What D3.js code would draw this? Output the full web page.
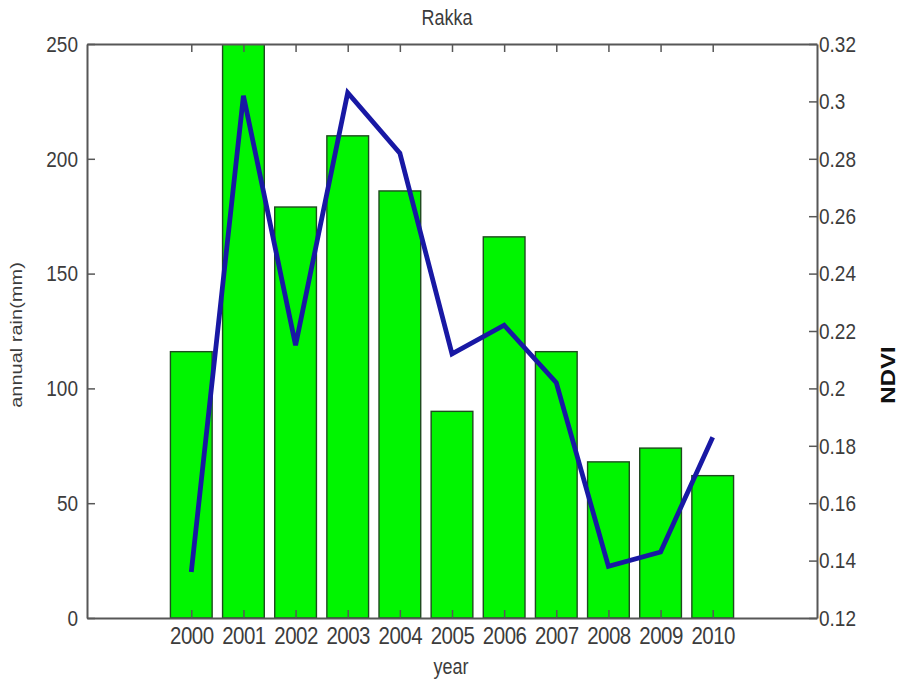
<!DOCTYPE html>
<html>
<head>
<meta charset="utf-8">
<script src="https://cdn.jsdelivr.net/npm/d3@7"></script>
<style>
  html, body { margin: 0; padding: 0; background: #fff; }
  svg { display: block; font-family: "Liberation Sans", Arial, sans-serif; }
</style>
</head>
<body>
<svg id="chart" width="920" height="679"></svg>
<script>
// Annual rainfall (bars, left axis) and mean NDVI (line, right axis) for Rakka
const years = [2000, 2001, 2002, 2003, 2004, 2005, 2006, 2007, 2008, 2009, 2010];
const rainMm = [116, 256, 179, 210, 186, 90, 166, 116, 68, 74, 62];
const ndvi = [0.136, 0.302, 0.215, 0.303, 0.282, 0.212, 0.222, 0.202, 0.138, 0.143, 0.183];
const rainTicks = [0, 50, 100, 150, 200, 250];
const ndviTicks = [0.12, 0.14, 0.16, 0.18, 0.2, 0.22, 0.24, 0.26, 0.28, 0.3, 0.32];

const svg = d3.select("#chart");
const plotL = 87, plotR = 817, plotT = 44, plotB = 618;

const x = d3.scaleLinear().domain([1998, 2012]).range([plotL, plotR]);
const yRain = d3.scaleLinear().domain([0, 250]).range([plotB, plotT]);
const yNdvi = d3.scaleLinear().domain([0.12, 0.32]).range([plotB, plotT]);
const barW = 0.8;

svg.append("defs").append("clipPath").attr("id", "plot")
  .append("rect").attr("x", plotL).attr("y", plotT)
  .attr("width", plotR - plotL).attr("height", plotB - plotT);

// bars
svg.append("g").attr("clip-path", "url(#plot)")
  .selectAll("rect").data(years).join("rect")
  .attr("x", (d) => x(d - barW / 2))
  .attr("width", (d) => x(d + barW / 2) - x(d - barW / 2))
  .attr("y", (d, i) => yRain(rainMm[i]))
  .attr("height", (d, i) => yRain(0) - yRain(rainMm[i]))
  .attr("fill", "#00f500")
  .attr("stroke", "#1f4a1f")
  .attr("stroke-width", 1.4);

// NDVI line
const line = d3.line().x((d) => x(d[0])).y((d) => yNdvi(d[1]));
svg.append("path")
  .datum(years.map((y, i) => [y, ndvi[i]]))
  .attr("d", line)
  .attr("fill", "none")
  .attr("stroke", "#1818a4")
  .attr("stroke-width", 4.8)
  .attr("stroke-linejoin", "miter");

const axisColor = "#575757";
const textColor = "#3c3c3c";
const stretch = "scale(1,1.2)";

function styleAxis(g) {
  g.select(".domain").attr("stroke", axisColor).attr("stroke-width", 2);
  g.selectAll(".tick line").attr("stroke", axisColor).attr("stroke-width", 1.5);
  g.selectAll(".tick text")
    .attr("fill", textColor)
    .attr("font-size", 19)
    .attr("transform", stretch);
}

// left axis
svg.append("g").attr("transform", `translate(${plotL},0)`)
  .call(d3.axisLeft(yRain).tickValues(rainTicks).tickSizeInner(-8).tickSizeOuter(0).tickPadding(9))
  .call(styleAxis);

// right axis
svg.append("g").attr("transform", `translate(${plotR},0)`)
  .call(d3.axisRight(yNdvi).tickValues(ndviTicks).tickSizeInner(-8).tickSizeOuter(0).tickPadding(2)
    .tickFormat((d) => String(+d.toFixed(2))))
  .call(styleAxis);

// bottom axis
svg.append("g").attr("transform", `translate(0,${plotB})`)
  .call(d3.axisBottom(x).tickValues(years).tickSizeInner(-8).tickSizeOuter(0).tickPadding(7)
    .tickFormat(d3.format("d")))
  .call(styleAxis)
  .call((g) => g.selectAll(".tick text").attr("font-size", 20.5).attr("letter-spacing", -0.5));

// top axis (box edge)
svg.append("g").attr("transform", `translate(0,${plotT})`)
  .call(d3.axisTop(x).tickValues(years).tickSizeInner(-8).tickSizeOuter(0).tickFormat(""))
  .call(styleAxis);

// titles
svg.append("text")
  .attr("x", 447).attr("y", 23)
  .attr("text-anchor", "middle")
  .attr("font-size", 18).attr("fill", textColor)
  .attr("transform", "translate(0,-3) scale(1,1.2)")
  .text("Rakka");

svg.append("text")
  .attr("x", 451).attr("y", 562)
  .attr("text-anchor", "middle")
  .attr("font-size", 18).attr("fill", textColor)
  .attr("transform", "scale(1,1.2)")
  .text("year");

svg.append("text")
  .attr("transform", "translate(22,335) rotate(-90) scale(1.25,1)")
  .attr("text-anchor", "middle")
  .attr("font-size", 16).attr("fill", textColor)
  .text("annual rain(mm)");

svg.append("text")
  .attr("transform", "translate(895,375) rotate(-90) scale(1.2,1)")
  .attr("text-anchor", "middle")
  .attr("font-size", 20).attr("font-weight", "bold").attr("fill", "#111")
  .text("NDVI");
</script>
</body>
</html>
